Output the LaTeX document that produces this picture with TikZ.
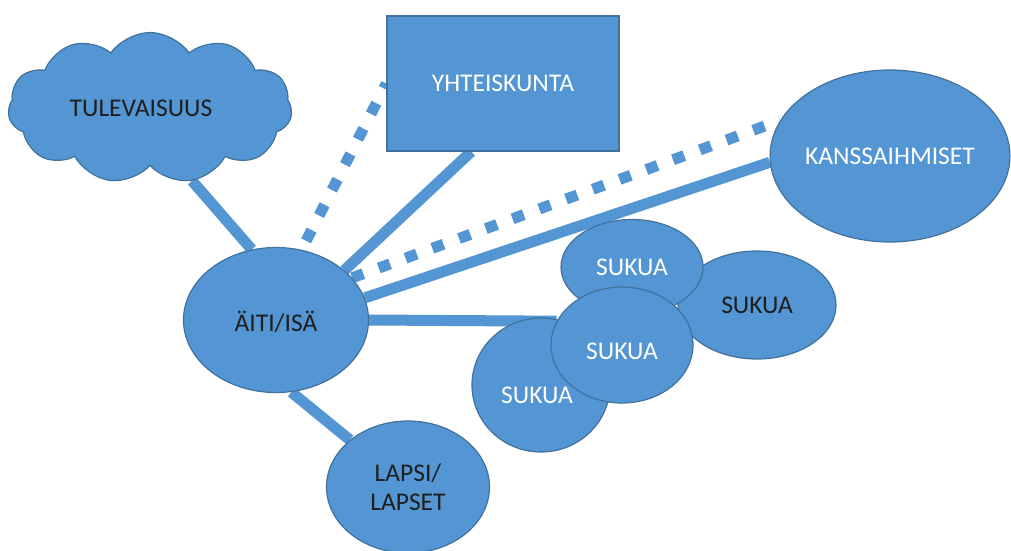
\documentclass[tikz,border=0pt]{standalone}
\usepackage{fontspec}
\setmainfont{Carlito}
\usetikzlibrary{shapes.geometric,shapes.symbols,backgrounds}
\definecolor{shapefill}{RGB}{83,150,211}
\definecolor{shapeline}{RGB}{65,113,156}
\definecolor{darktext}{RGB}{30,30,30}
\begin{document}
\begin{tikzpicture}[x=1pt,y=-1pt,
  blob/.style={fill=shapefill,draw=shapeline,line width=1.2pt,inner sep=0pt,
    font=\fontsize{25.5}{29}\selectfont},
  oval/.style={blob,ellipse},
  wtext/.style={text=white},
  dtext/.style={text=darktext},
  link/.style={draw=shapefill,line width=11pt},
  dotlink/.style={link,dash pattern=on 12pt off 16.5pt}]
\useasboundingbox (0,0) rectangle (1011,550);
% nodes
\node[blob,cloud,cloud puffs=11,cloud puff arc=110,cloud ignores aspect,
  minimum width=284,minimum height=151,dtext] (cloud) at (150,108) {\kern-18pt TULEVAISUUS};
\node[blob,rectangle,minimum width=232,minimum height=135,wtext] (yht) at (503,83.5) {YHTEISKUNTA};
\node[oval,minimum width=236,minimum height=172,wtext] (kans) at (890,156) {KANSSAIHMISET};
\node[oval,minimum width=185,minimum height=145,dtext] (aiti) at (276,320) {\smash{\raisebox{-11pt}{ÄITI/ISÄ}}};
\node[oval,minimum width=163,minimum height=132,dtext,align=center] (lapsi) at (408,487) {LAPSI/\\LAPSET};
\node[oval,minimum width=158,minimum height=108,dtext] (sr) at (757,305) {SUKUA};
\node[oval,minimum width=142,minimum height=95,wtext] (st) at (632,267) {SUKUA};
\node[oval,minimum width=138,minimum height=134,wtext] (sb) at (541,385) {\kern-8pt\smash{\raisebox{-18pt}{SUKUA}}};
\node[oval,minimum width=142,minimum height=116,wtext] (sm) at (622,345) {\smash{\raisebox{-14pt}{SUKUA}}};
% connectors
\begin{scope}[on background layer]
\draw[link] (cloud.-60) -- (aiti.109);
\draw[dotlink,shorten <=10pt] (aiti.70) -- (yht.west);
\draw[link] (aiti.36) -- (yht.-115);
\draw[dotlink] (aiti.29) -- (kans.162);
\draw[link] (aiti.14) -- (kans.183);
\draw[link] (aiti.0) -- (sm.160);
\draw[link] (aiti.-78) -- (lapsi.141);
\end{scope}
\end{tikzpicture}
\end{document}
